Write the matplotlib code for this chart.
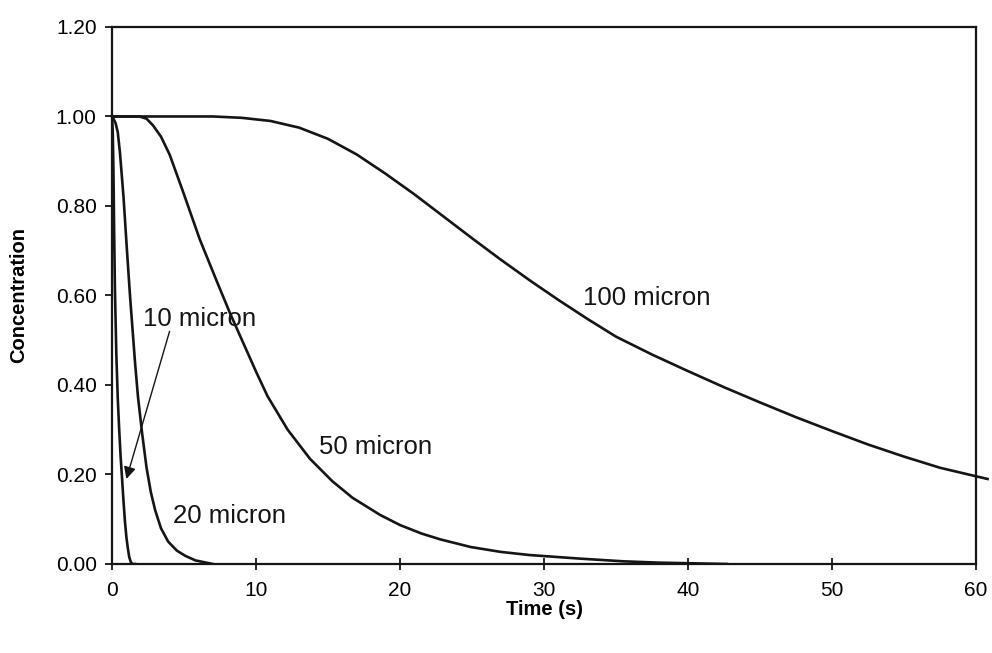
import matplotlib.pyplot as plt

# values
t10 = [0, 0.05, 0.1, 0.15, 0.2, 0.3, 0.4, 0.5, 0.6, 0.7, 0.8, 0.9, 1.0, 1.1, 1.2, 1.3, 1.4, 1.6]
c10 = [1.0, 0.97, 0.88, 0.74, 0.62, 0.47, 0.37, 0.30, 0.24, 0.19, 0.14, 0.095, 0.06, 0.035, 0.015, 0.005, 0.0, 0.0]

t20 = [0, 0.1, 0.25, 0.4, 0.55, 0.8, 1.04, 1.25, 1.6, 1.8, 2.1, 2.4, 2.7, 3.0, 3.4, 3.9,
       4.5, 5.1, 5.8, 7.0]
c20 = [1.0, 0.995, 0.985, 0.965, 0.92, 0.82, 0.70, 0.60, 0.45, 0.375, 0.29, 0.215, 0.16, 0.12,
       0.08, 0.05, 0.03, 0.018, 0.008, 0.0]

t50 = [0, 1.9, 2.4, 2.85, 3.4, 4.0, 4.9, 6.1, 7.3, 8.2, 9.1, 10.0, 10.8, 12.2, 13.75, 15.3,
       16.7, 18.6, 20.0, 21.5, 22.8, 24.9, 27.0, 29.0, 32.5, 35.5, 38.0, 42.7]
c50 = [1.0, 1.0, 0.995, 0.98, 0.955, 0.915, 0.835, 0.725, 0.63, 0.56, 0.495, 0.43, 0.375, 0.30,
       0.235, 0.185, 0.148, 0.11, 0.087, 0.068, 0.055, 0.038, 0.027, 0.02, 0.012, 0.006, 0.003, 0.0]

t100 = [0, 7, 9, 11, 13, 15, 17, 19, 21, 23, 25, 27, 29, 31, 33, 35, 37.5, 40, 42.5,
        45, 47.5, 50, 52.5, 55, 57.5, 60, 60.8]
c100 = [1.0, 1.0, 0.997, 0.99, 0.975, 0.95, 0.915, 0.872, 0.826, 0.777, 0.728, 0.68, 0.634,
        0.59, 0.548, 0.508, 0.468, 0.431, 0.395, 0.361, 0.328, 0.297, 0.267, 0.24, 0.215, 0.196, 0.19]

labels = ["10 micron", "20 micron", "50 micron", "100 micron"]
label_pos = [(2.15, 0.548), (4.24, 0.107), (14.4, 0.261), (32.7, 0.594)]
arrow_tip = (1.0, 0.19)
arrow_start = (4.0, 0.52)

plt.rcParams["font.family"] = ["Liberation Sans", "DejaVu Sans"]
ink = "#151515"

fig = plt.figure(figsize=(9.92, 6.53), dpi=100)
ax = fig.add_axes([0.1129, 0.1363, 0.8710, 0.8224])

for t, c in [(t10, c10), (t20, c20), (t50, c50)]:
    ax.plot(t, c, color=ink, lw=1.9)
# the 100 micron curve runs a little past the right frame
ax.plot(t100, c100, color=ink, lw=1.9, clip_on=False)

for text, (x, y) in zip(labels, label_pos):
    ax.text(x, y, text, fontsize=18.5, color=ink, ha="left", va="center")

ax.annotate("", xy=arrow_tip, xytext=arrow_start,
            arrowprops=dict(arrowstyle="-|>", color=ink, lw=1.0,
                            mutation_scale=18, shrinkA=0, shrinkB=0))

ax.set_xlim(0, 60)
ax.set_ylim(0, 1.2)
ax.set_xticks(range(0, 61, 10))
ax.set_yticks([0, 0.2, 0.4, 0.6, 0.8, 1.0, 1.2])
ax.set_yticklabels(["%.2f" % v for v in ax.get_yticks()])
ax.tick_params(axis="x", direction="inout", length=9, width=1.3, color=ink,
               labelsize=15, pad=8)
ax.tick_params(axis="y", direction="out", length=5, width=1.3, color=ink,
               labelsize=15, pad=6)
for s in ax.spines.values():
    s.set_linewidth(1.6)
    s.set_color(ink)

ax.set_xlabel("Time (s)", fontsize=14.5, fontweight="bold", labelpad=0)
ax.set_ylabel("Concentration", fontsize=14.5, fontweight="bold", labelpad=20)

fig.savefig("out.png", dpi=100)
